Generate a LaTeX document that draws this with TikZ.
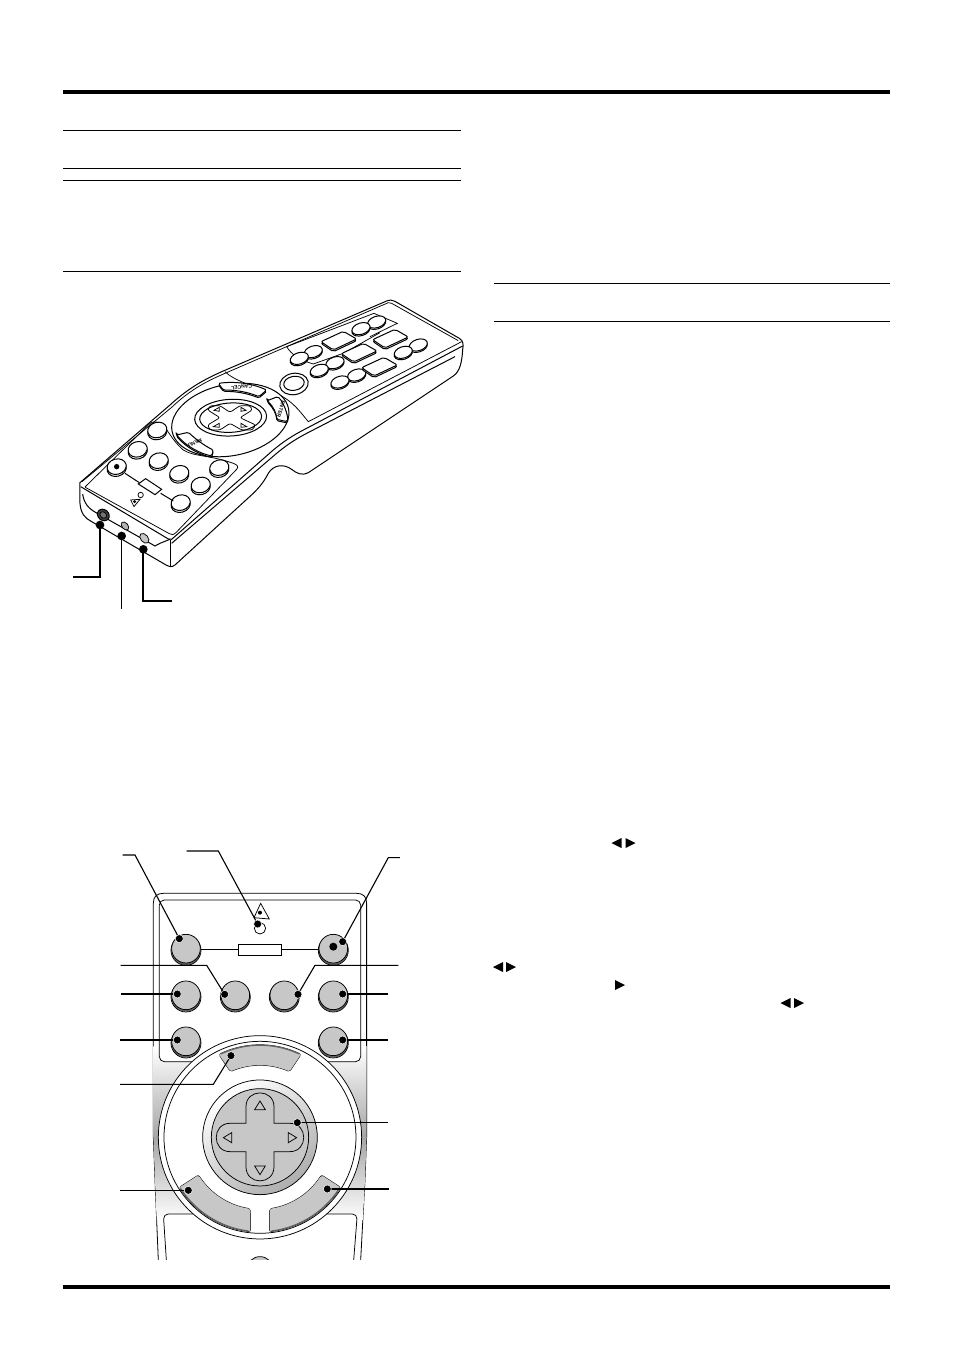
\documentclass[tikz,border=0pt]{standalone}
\usepackage{fontspec}
\setmainfont{Liberation Sans}
\tikzset{
  rulethin/.style={draw=black,line width=1pt},
  ruleheavy/.style={draw=black,line width=4pt},
  outl/.style={draw=black,line width=1pt},
  thinl/.style={draw=black,line width=0.75pt},
  lead/.style={draw=black,line width=1.1pt},
  leadthick/.style={draw=black,line width=1.9pt},
  leadmid/.style={draw=black,line width=1.5pt},
  dotw/.style={fill=black,draw=white,line width=0.5pt},
  dotb/.style={fill=black},
  glyph/.style={fill=black},
  keylabel/.style={font=\fontsize{5}{5}\selectfont\bfseries,inner sep=0pt},
}
\definecolor{btn}{gray}{0.78}
\definecolor{btnd}{gray}{0.38}
% --- top remote helpers (coordinates of a 3x frame)
\newcommand{\ovalk}[2]{%
  \draw[outl,fill=white,shift={(#1,#2+4)},rotate=18] (0,0) ellipse (28 and 17);
  \draw[outl,fill=white,shift={(#1,#2)},rotate=18] (0,0) ellipse (28 and 17);}
\newcommand{\roundk}[2]{%
  \draw[outl,fill=white,shift={(#1,#2+6)},rotate=15] (0,0) ellipse (29 and 23);
  \draw[outl,fill=white,shift={(#1,#2)},rotate=15] (0,0) ellipse (29 and 23);}
\newcommand{\rectk}[2]{%
  \draw[outl,fill=white,rounded corners=2pt,shift={(#1,#2+5)}] (-52,3) -- (15,-28) -- (55,-5) -- (-15,28) -- cycle;
  \draw[outl,fill=white,rounded corners=2pt,shift={(#1,#2)}] (-52,3) -- (15,-28) -- (55,-5) -- (-15,28) -- cycle;}
% --- lower remote helpers
\newcommand{\bigk}[2]{%
  \fill[btnd,shift={(#1,#2+5)}] (0,0) circle (44);
  \draw[thinl,shift={(#1,#2+5)}] (0,0) circle (45);
  \draw[thinl,fill=btn,shift={(#1,#2)}] (0,0) circle (43);}
% outer from, outer to, inner from, inner to, inner r, outer r
\newcommand{\sectk}[6]{%
  \draw[draw=black,line width=4.6pt,line join=round] plot[domain=#1:#2,samples=16] ({450+#6*cos(\x)},{892+#6*sin(\x)}) -- plot[domain=#4:#3,samples=16] ({450+#5*cos(\x)},{892+#5*sin(\x)}) -- cycle;
  \draw[draw=btn,fill=btn,line width=3.6pt,line join=round] plot[domain=#1:#2,samples=16] ({450+#6*cos(\x)},{892+#6*sin(\x)}) -- plot[domain=#4:#3,samples=16] ({450+#5*cos(\x)},{892+#5*sin(\x)}) -- cycle;
  \draw[draw=btnd,line width=1pt] plot[domain=#1:#2,samples=16] ({450+(#6+4)*cos(\x)},{892+(#6+4)*sin(\x)});}
\begin{document}
\begin{tikzpicture}[x=1pt,y=-1pt]
\useasboundingbox (0,0) rectangle (954,1348);
\fill[white] (0,0) rectangle (954,1348);

% page rules
\coordinate (hl) at (63,92); \coordinate (hr) at (890,92);
\coordinate (fl) at (63,1287); \coordinate (fr) at (890,1287);
\draw[ruleheavy] (hl) -- (hr);
\draw[ruleheavy] (fl) -- (fr);
\draw[rulethin] (63,130.5) -- (461,130.5);
\draw[rulethin] (63,168.5) -- (461,168.5);
\draw[rulethin] (63,180.5) -- (461,180.5);
\draw[rulethin] (63,271.5) -- (461,271.5);
\draw[rulethin] (494,283.5) -- (890,283.5);
\draw[rulethin] (494,321.5) -- (890,321.5);

% inline arrow glyphs
\fill[glyph] (611.5,843) -- (621.5,838) -- (621.5,848) -- cycle;
\fill[glyph] (625.5,838) -- (635.5,843) -- (625.5,848) -- cycle;
\fill[glyph] (493,967) -- (503,962) -- (503,972) -- cycle;
\fill[glyph] (506,962) -- (516,967) -- (506,972) -- cycle;
\fill[glyph] (615,980) -- (625,985) -- (615,990) -- cycle;
\fill[glyph] (780.5,1003) -- (790.5,998) -- (790.5,1008) -- cycle;
\fill[glyph] (794,998) -- (804,1003) -- (794,1008) -- cycle;

% ===== top remote =====
\begin{scope}[shift={(60,290)},x=0.3333pt,y=-0.3333pt]
  % body silhouette
  \draw[outl,fill=white] (60,578) -- (330,345) .. controls (390,290) and (440,265) .. (490,243)
     -- (980,33) .. controls (990,29) and (998,30) .. (1005,34)
     -- (1198,145) .. controls (1212,153) and (1210,165) .. (1208,180)
     .. controls (1206,215) and (1200,245) .. (1180,258)
     -- (745,548) .. controls (725,558) and (710,550) .. (695,538)
     .. controls (670,520) and (640,525) .. (625,550)
     .. controls (612,575) and (600,590) .. (580,610)
     -- (345,825) .. controls (335,833) and (328,830) .. (318,825)
     -- (95,695) .. controls (75,685) and (62,670) .. (60,640) -- cycle;
  % top face edges
  \draw[outl] (62,590) -- (325,747) -- (335,748) -- (640,480) .. controls (670,455) and (700,435) .. (740,415) -- (1208,168);
  \draw[thinl] (66,575) -- (335,352) .. controls (395,295) and (445,272) .. (495,250) -- (985,38) -- (995,40) -- (1195,152);
  \draw[outl] (335,760) -- (650,490) .. controls (680,465) and (710,445) .. (750,425) -- (1185,200);
  \draw[outl] (332,750) -- (332,830);
  % front recess
  \draw[outl] (68,612) .. controls (72,640) and (85,655) .. (108,668) -- (285,768) -- (300,760) -- (330,748);
  % keypad panel lower-left
  \draw[thinl] (76,590) -- (265,405) .. controls (275,393) and (290,393) .. (305,402)
     .. controls (325,420) and (335,450) .. (370,480) .. controls (400,500) and (450,495) .. (520,520)
     .. controls (532,525) and (537,530) .. (530,538) -- (348,728) .. controls (340,735) and (335,735) .. (328,731) -- (85,597) .. controls (76,592) and (75,592) .. (76,590) -- cycle;
  % upper panel
  \draw[thinl] (495,245) .. controls (520,270) and (580,290) .. (630,305)
     .. controls (690,320) and (720,365) .. (745,395) -- (1205,155);
  \draw[thinl] (680,170) -- (942,70) -- (1012,100) -- (930,140);
  \draw[thinl] (680,170) .. controls (695,195) and (720,210) .. (760,222) -- (850,190) -- (960,128);
  % ring
  \draw[outl,fill=white,shift={(511,390)},rotate=11] (0,0) ellipse (178 and 107);
  % ring keys (shadow + face)
  \draw[outl,fill=white,rounded corners=1.5pt,shift={(0,4)}] (475,280) .. controls (520,274) and (570,278) .. (620,300) -- (597,320) .. controls (560,305) and (525,300) .. (490,300) -- cycle;
  \draw[outl,fill=white,rounded corners=1.5pt] (475,280) .. controls (520,274) and (570,278) .. (620,300) -- (597,320) .. controls (560,305) and (525,300) .. (490,300) -- cycle;
  \draw[outl,fill=white,rounded corners=1.5pt,shift={(0,4)}] (622,332) -- (653,320) .. controls (670,335) and (685,375) .. (682,395) -- (650,388) .. controls (650,370) and (640,350) .. (622,332) -- cycle;
  \draw[outl,fill=white,rounded corners=1.5pt] (622,332) -- (653,320) .. controls (670,335) and (685,375) .. (682,395) -- (650,388) .. controls (650,370) and (640,350) .. (622,332) -- cycle;
  \draw[outl,fill=white,rounded corners=1.5pt,shift={(0,4)}] (350,435) -- (385,427) .. controls (410,450) and (435,468) .. (460,480) -- (455,498) .. controls (420,490) and (380,470) .. (350,435) -- cycle;
  \draw[outl,fill=white,rounded corners=1.5pt] (350,435) -- (385,427) .. controls (410,450) and (435,468) .. (460,480) -- (455,498) .. controls (420,490) and (380,470) .. (350,435) -- cycle;
  \node[keylabel,rotate=187] (kcancel) at (545,291) {CANCEL};
  \node[keylabel,rotate=252] (kenter) at (663,358) {ENTER};
  \node[keylabel,rotate=205] (kmenu) at (405,458) {MENU};
  % direction pad
  \draw[outl,shift={(512,383)},rotate=3] (0,0) ellipse (108 and 55);
  \draw[outl,shift={(512,383)},rotate=3] (0,0) ellipse (93 and 44);
  \draw[thinl,rounded corners=2.2pt] (510,367) -- (540,347) -- (570,347) -- (577,360) -- (540,383) -- (587,405) -- (577,420) -- (545,420) -- (510,400) -- (480,420) -- (450,420) -- (443,405) -- (480,383) -- (443,360) -- (450,347) -- (480,347) -- cycle;
  \draw[thinl] (462,361) -- (478,352) -- (478,364) -- cycle;
  \draw[thinl] (558,361) -- (543,352) -- (543,364) -- cycle;
  \draw[thinl] (460,410) -- (478,400) -- (478,412) -- cycle;
  \draw[thinl] (560,410) -- (543,400) -- (543,412) -- cycle;
  % round keys
  \roundk{292}{420}\roundk{233}{478}\roundk{296}{512}\roundk{358}{550}
  \roundk{478}{533}\roundk{422}{585}\roundk{362}{638}\roundk{170}{530}
  \fill[black] (170,530) circle (8);
  \coordinate (a1) at (195,550); \coordinate (a2) at (238,578);
  \coordinate (a3) at (302,610); \coordinate (a4) at (340,633);
  \draw[outl] (a1) -- (a2);
  \draw[outl] (a3) -- (a4);
  \draw[outl,fill=white] (235,582) -- (257,566) -- (305,598) -- (285,614) -- cycle;
  \draw[thinl] (242,615) circle (8);
  \draw[thinl] (212,630) -- (240,628) -- (222,650) -- cycle;
  \fill[black] (224,635) circle (5);
  % upper keys
  \ovalk{950}{96}\ovalk{903}{116}\ovalk{760}{185}\ovalk{1075}{165}\ovalk{1030}{187}
  \ovalk{718}{205}\ovalk{825}{218}\ovalk{778}{241}\ovalk{890}{255}\ovalk{840}{276}
  \rectk{835}{152}\rectk{990}{146}\rectk{896}{188}\rectk{957}{230}
  \draw[outl,fill=white,shift={(702,282)},rotate=10] (0,0) ellipse (43 and 32);
  \draw[outl,fill=white,shift={(702,280)},rotate=10] (0,0) ellipse (31 and 21);
  % jacks
  \draw[outl,fill=black!75,shift={(130,675)},rotate=-40] (0,0) ellipse (19 and 16);
  \draw[thinl,fill=black!55,shift={(130,675)},rotate=-40] (0,0) ellipse (11 and 9);
  \draw[thinl,fill=black!30,shift={(195,708)},rotate=-50] (0,0) ellipse (14 and 9);
  \draw[thinl,fill=black!22,shift={(253,745)},rotate=-50] (0,0) ellipse (17 and 11);
  % leaders
  \coordinate (t1) at (120,705); \coordinate (t1b) at (120,860); \coordinate (t1e) at (38,860);
  \coordinate (t2) at (185,738); \coordinate (t2e) at (185,958);
  \coordinate (t3) at (250,778); \coordinate (t3b) at (250,932); \coordinate (t3e) at (336,932);
  \draw[leadthick] (t1) -- (t1b) -- (t1e);
  \draw[lead] (t2) -- (t2e);
  \draw[leadthick] (t3) -- (t3b) -- (t3e);
  \fill[dotb] (t1) circle (13); \fill[dotb] (t2) circle (13); \fill[dotb] (t3) circle (13);
\end{scope}

% ===== lower remote =====
\begin{scope}[shift={(110,840)},x=0.3333pt,y=-0.3333pt]
 \begin{scope}
  \clip (0,0) rectangle (900,1260);
  \path[draw=black,fill=white,line width=0.8pt] (130,190) .. controls (130,170) and (140,160) .. (160,160) -- (740,160) .. controls (760,160) and (770,170) .. (770,190) -- (770,890) -- (765,1020) -- (752,1262) -- (145,1262) -- (135,1020) -- (130,890) -- cycle;
  \begin{scope}
   \clip (130,190) -- (770,190) -- (770,890) -- (765,1020) -- (752,1262) -- (145,1262) -- (135,1020) -- (130,890) -- cycle;
   \shade[top color=white,bottom color=black!35] (120,620) rectangle (780,892);
   \shade[top color=black!35,bottom color=white] (120,892) rectangle (780,1140);
  \end{scope}
  % lower panel
  \draw[thinl,fill=white,rounded corners=5pt] (160,1122) -- (742,1122) -- (730,1275) -- (170,1275) -- cycle;
  % upper panel
  \draw[thinl,fill=white,rounded corners=5pt] (148,180) -- (752,180) -- (752,665) -- (148,665) -- cycle;
  % ring
  \draw[thinl,fill=white] (450,892) circle (305);
  \draw[thinl,fill=white] (450,892) circle (288);
  % arc keys
  \sectk{245}{295}{247}{293}{222}{272}
  \sectk{147}{97}{147}{99}{222}{279}
  \sectk{33}{83}{33}{81}{222}{279}
  % disc
  \draw[thinl,top color=white,bottom color=black!32,shading angle=35] (450,892) circle (172);
  \draw[thinl,fill=btn] (450,892) circle (146);
  \draw[thinl,fill=btn] (408,850) -- (408,800) .. controls (408,745) and (492,745) .. (492,800) -- (492,850)
     -- (540,850) .. controls (595,850) and (595,935) .. (540,935) -- (492,935)
     -- (492,980) .. controls (492,1037) and (408,1037) .. (408,980) -- (408,935)
     -- (360,935) .. controls (305,935) and (305,850) .. (360,850) -- cycle;
  \draw[thinl] (450,783) -- (466,809) -- (434,809) -- cycle;
  \draw[thinl] (450,1004) -- (466,978) -- (434,978) -- cycle;
  \draw[thinl] (340,893) -- (365,878) -- (365,908) -- cycle;
  \draw[thinl] (560,893) -- (535,878) -- (535,908) -- cycle;
  % bottom centre key
  \draw[thinl,fill=btn] (450,1290) circle (40);
 \end{scope}
 % round keys
 \bigk{228}{326}\bigk{670}{326}
 \bigk{228}{466}\bigk{376}{466}\bigk{523}{466}\bigk{670}{466}
 \bigk{228}{604}\bigk{670}{604}
 \fill[black] (670,320) circle (12);
 % link between keys
 \coordinate (lk1) at (272,328); \coordinate (lk2) at (627,328);
 \node[draw=black,line width=0.7pt,fill=white,minimum width=43.5pt,minimum height=11.3pt,inner sep=0pt] (lkbox) at (450,330) {};
 \draw[draw=black,line width=1.1pt] (lk1) -- (lkbox.west |- lk1);
 \draw[draw=black,line width=1.1pt] (lkbox.east |- lk2) -- (lk2);
 % LED + warning triangle
 \draw[thinl] (450,265) circle (17);
 \draw[thinl] (452,190) -- (478,237) -- (432,233) -- cycle;
 \fill[black] (450,218) circle (6);
 % leaders
 \coordinate (b1) at (208,296); \coordinate (b1m) at (75,45); \coordinate (b1e) at (38,45);
 \coordinate (b2) at (443,252); \coordinate (b2m) at (325,33); \coordinate (b2e) at (230,33);
 \coordinate (b3) at (698,305); \coordinate (b3m) at (835,53); \coordinate (b3e) at (870,53);
 \coordinate (b4) at (344,463); \coordinate (b4m) at (290,376); \coordinate (b4e) at (32,376);
 \coordinate (b5) at (202,462); \coordinate (b5e) at (33,462);
 \coordinate (b6) at (564,463); \coordinate (b6m) at (615,376); \coordinate (b6e) at (865,376);
 \coordinate (b7) at (698,462); \coordinate (b7e) at (833,462);
 \coordinate (b8) at (202,600); \coordinate (b8e) at (30,600);
 \coordinate (b9) at (698,600); \coordinate (b9e) at (833,600);
 \coordinate (b10) at (363,647); \coordinate (b10m) at (310,733); \coordinate (b10e) at (30,733);
 \coordinate (b11) at (562,848); \coordinate (b11e) at (833,848);
 \coordinate (b12) at (235,1051); \coordinate (b12e) at (30,1051);
 \coordinate (b13) at (652,1047); \coordinate (b13e) at (838,1047);
 \draw[lead] (b1) -- (b1m) -- (b1e);
 \draw[lead] (b2) -- (b2m) -- (b2e);
 \draw[lead] (b3) -- (b3m) -- (b3e);
 \draw[lead] (b4) -- (b4m) -- (b4e);
 \draw[leadmid] (b5) -- (b5e);
 \draw[lead] (b6) -- (b6m) -- (b6e);
 \draw[leadmid] (b7) -- (b7e);
 \draw[leadmid] (b8) -- (b8e);
 \draw[leadmid] (b9) -- (b9e);
 \draw[lead] (b10) -- (b10m) -- (b10e);
 \draw[leadmid] (b11) -- (b11e);
 \draw[lead] (b12) -- (b12e);
 \draw[leadmid] (b13) -- (b13e);
 \foreach \p in {b1,b2,b3,b4,b5,b6,b7,b8,b9,b10,b11,b12,b13}
   \draw[dotw] (\p) circle (12);
\end{scope}
\end{tikzpicture}
\end{document}
